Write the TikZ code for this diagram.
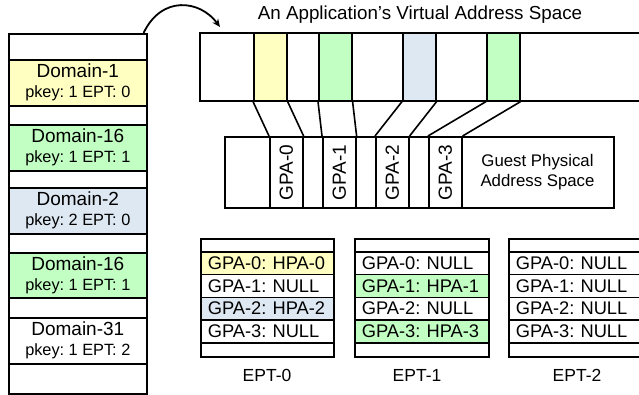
\documentclass[tikz,border=0pt]{standalone}
\usepackage{fontspec}
\setmainfont{Liberation Sans}
\usetikzlibrary{arrows.meta}
\frenchspacing

\definecolor{dyellow}{HTML}{FFFFC2}
\definecolor{dgreen}{HTML}{C2FFC2}
\definecolor{dblue}{HTML}{DEE8F3}

\tikzset{
  cell/.style={draw, inner sep=0pt, anchor=north west},
  domcell/.style={cell, minimum width=138pt, align=center,
    font=\fontsize{19}{20}\selectfont},
  strip/.style={cell, minimum width=33pt, minimum height=68pt},
  gstrip/.style={cell, minimum width=33pt, minimum height=71pt},
  eptrow/.style={cell, inner xsep=7pt, text width=119pt, align=left,
    minimum height=22.75pt, font=\fontsize{18.3}{20}\selectfont},
  eptedge/.style={cell, minimum width=133pt},
  lbl/.style={font=\fontsize{17.5}{20}\selectfont},
  gpalbl/.style={rotate=90, font=\fontsize{19}{20}\selectfont},
}

\newcommand{\pk}[1]{{\fontsize{16.3}{20}\selectfont #1}}

\begin{document}
\begin{tikzpicture}[x=1pt,y=-1pt,line width=1.6pt]
\useasboundingbox (0,0) rectangle (639,395);
\begin{scope}
\clip (0,0) rectangle (639,395);

% protection domains
\node[cell, minimum width=138pt, minimum height=360pt] (domtab) at (8,33) {};
\node[domcell, fill=dyellow, minimum height=46pt] (dom1) at (8,59) {Domain-1\\\pk{pkey: 1 EPT: 0}};
\node[domcell, fill=dgreen, minimum height=46pt] (dom16a) at (8,124) {Domain-16\\\pk{pkey: 1 EPT: 1}};
\node[domcell, fill=dblue, minimum height=46pt] (dom2) at (8,187) {Domain-2\\\pk{pkey: 2 EPT: 0}};
\node[domcell, fill=dgreen, minimum height=45pt] (dom16b) at (8,252) {Domain-16\\\pk{pkey: 1 EPT: 1}};
\node[domcell, minimum height=46pt] (dom31) at (8,317) {Domain-31\\\pk{pkey: 1 EPT: 2}};

% virtual address space
\node[font=\fontsize{18.8}{20}\selectfont] (vastitle) at (420,15) {An Application’s Virtual Address Space};
\node[cell, minimum width=460pt, minimum height=68pt] (vas) at (199,32) {};
\node[strip, fill=dyellow] (va0) at (253,32) {};
\node[strip, fill=dgreen] (va1) at (318,32) {};
\node[strip, fill=dblue] (va2) at (402,32) {};
\node[strip, fill=dgreen] (va3) at (486,32) {};

\draw[-{Stealth[length=8pt,width=7pt]}, line width=1.8pt]
  ([xshift=-4pt]domtab.north east) .. controls +(18,-38) and +(-20,-27) .. ([xshift=21pt,yshift=5pt]vas.north west);

% guest physical address space
\node[cell, minimum width=389pt, minimum height=71pt] (gpas) at (224,136) {};
\node[gstrip] (gpa0) at (269,136) {};
\node[gstrip] (gpa1) at (322,136) {};
\node[gstrip] (gpa2) at (375,136) {};
\node[gstrip] (gpa3) at (428,136) {};
\node[gpalbl] at (gpa0) {GPA-0};
\node[gpalbl] at (gpa1) {GPA-1};
\node[gpalbl] at (gpa2) {GPA-2};
\node[gpalbl] at (gpa3) {GPA-3};
\node[align=center, font=\fontsize{16.8}{20}\selectfont] (gpaname) at (537.5,172) {Guest Physical\\Address Space};

\draw (va0.south west) -- (gpa0.north west);
\draw (va0.south east) -- (gpa0.north east);
\draw (va1.south west) -- (gpa1.north west);
\draw (va1.south east) -- (gpa1.north east);
\draw (va2.south west) -- (gpa2.north west);
\draw (va2.south east) -- (gpa2.north east);
\draw (va3.south west) -- (gpa3.north west);
\draw (va3.south east) -- (gpa3.north east);

% EPT-0
\node[eptedge, minimum height=13pt] (e0top) at (200,238) {};
\node[eptrow, fill=dyellow] (e0r0) at (200,251) {GPA-0: HPA-0};
\node[eptrow] (e0r1) at (200,273.75) {GPA-1: NULL};
\node[eptrow, fill=dblue] (e0r2) at (200,296.5) {GPA-2: HPA-2};
\node[eptrow] (e0r3) at (200,319.25) {GPA-3: NULL};
\node[eptedge, minimum height=14pt] (e0bot) at (200,342) {};
\node[lbl] (e0name) at (267,375) {EPT-0};

% EPT-1
\node[eptedge, minimum height=13pt, minimum width=134pt] (e1top) at (354,238) {};
\node[eptrow, text width=120pt] (e1r0) at (354,251) {GPA-0: NULL};
\node[eptrow, text width=120pt, fill=dgreen] (e1r1) at (354,273.75) {GPA-1: HPA-1};
\node[eptrow, text width=120pt] (e1r2) at (354,296.5) {GPA-2: NULL};
\node[eptrow, text width=120pt, fill=dgreen] (e1r3) at (354,319.25) {GPA-3: HPA-3};
\node[eptedge, minimum height=14pt, minimum width=134pt] (e1bot) at (354,342) {};
\node[lbl] (e1name) at (417,375) {EPT-1};

% EPT-2
\node[eptedge, minimum height=13pt, minimum width=138pt] (e2top) at (508,238) {};
\node[eptrow, text width=124pt] (e2r0) at (508,251) {GPA-0: NULL};
\node[eptrow, text width=124pt] (e2r1) at (508,273.75) {GPA-1: NULL};
\node[eptrow, text width=124pt] (e2r2) at (508,296.5) {GPA-2: NULL};
\node[eptrow, text width=124pt] (e2r3) at (508,319.25) {GPA-3: NULL};
\node[eptedge, minimum height=14pt, minimum width=138pt] (e2bot) at (508,342) {};
\node[lbl] (e2name) at (577,375) {EPT-2};
\end{scope}
\end{tikzpicture}
\end{document}
